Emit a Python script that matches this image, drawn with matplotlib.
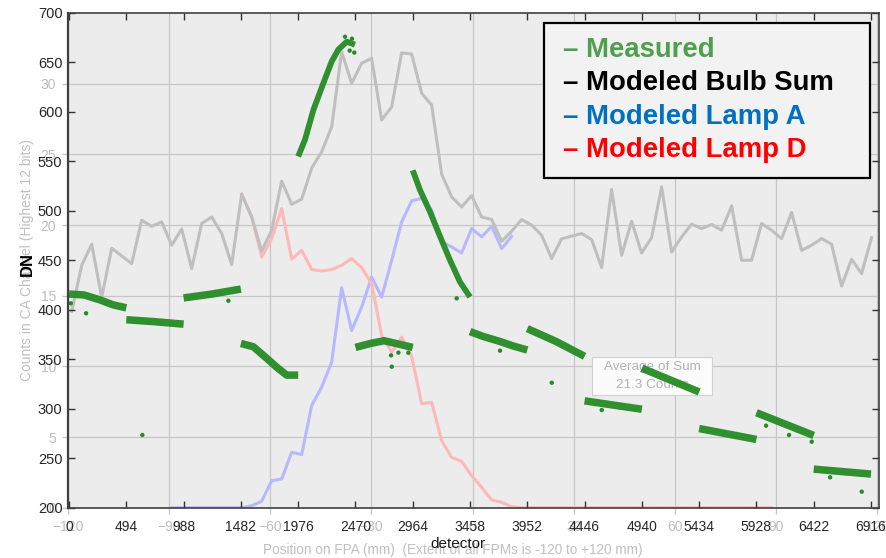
import numpy as np
import matplotlib
matplotlib.use("Agg")
import matplotlib.pyplot as plt
from matplotlib.patches import Rectangle

plt.rcParams['font.family'] = ['Liberation Sans', 'DejaVu Sans']

# ---------------- background model (FPA position in mm, counts) ----------------
fpa_mm = np.linspace(-118.9, 118.3, 81)
bulb_sum = [13.89, 17.15, 18.64, 14.88, 18.36, 17.81, 17.27, 20.34, 19.91, 20.22,
            18.57, 19.72, 16.92, 20.11, 20.57, 19.40, 17.20, 22.18, 20.57, 18.16,
            19.63, 23.10, 21.47, 21.83, 24.03, 25.18, 26.95, 32.25, 30.03, 31.45,
            31.79, 27.43, 28.35, 32.18, 32.10, 29.32, 28.49, 23.60, 21.99, 21.28,
            22.08, 20.57, 20.39, 18.85, 19.56, 20.39, 19.99, 19.28, 17.63, 19.03,
            19.21, 19.40, 18.97, 16.99, 22.52, 17.86, 20.27, 18.02, 19.11, 22.70,
            18.09, 19.16, 20.06, 19.75, 20.04, 19.63, 21.35, 17.51, 17.51, 20.11,
            19.63, 19.04, 20.89, 18.21, 18.57, 19.04, 18.64, 15.68, 17.58, 16.56,
            19.11]
lamp_a_start = 10
lamp_a = [0, 0, 0, 0, 0, 0, 0, 0.0, 0.14, 0.45, 1.91, 2.03, 3.92, 3.76, 7.23,
          8.53, 10.30, 15.56, 12.54, 14.2, 16.32, 14.9, 17.5, 20.22, 21.71, 21.88,
          21.05, 18.80, 18.45, 18.02, 19.75, 19.16, 19.91, 18.33, 19.2]
lamp_d_start = 17
lamp_d = [22.18, 20.57, 17.74, 19.04, 21.17, 17.58, 18.21, 16.85, 16.75, 16.85,
          17.15, 17.63, 16.99, 15.85, 12.19, 11.01, 12.07, 10.70, 7.35, 7.46,
          4.75, 3.56, 3.28, 2.27, 1.44, 0.55, 0.38, 0.07] + [0.0] * 26

fpa_ticks = list(range(-120, 121, 30))
count_ticks = list(range(0, 31, 5))

# ---------------- measured data (detector index, DN) ----------------
seg_det = [
    [0, 130, 267, 380, 494],
    [494, 740, 988],
    [988, 1235, 1482],
    [1482, 1589, 1705, 1791, 1877, 1976],
    [1976, 2035, 2107, 2193, 2265, 2322, 2395, 2466],
    [2470, 2600, 2717, 2964],
    [2964, 3027, 3113, 3200, 3286, 3372, 3458],
    [3458, 3573, 3717, 3832, 3952],
    [3952, 4200, 4446],
    [4446, 4940],
    [4940, 5434],
    [5434, 5928],
    [5928, 6422],
    [6422, 6916],
]
seg_dn = [
    [416, 415, 410, 405, 402],
    [390, 388, 385.5],
    [412, 416, 421],
    [366, 362.7, 351, 342, 334, 334],
    [555, 572, 602, 629, 651, 663, 671, 668],
    [362, 366, 368.8, 362],
    [541, 521, 499, 474, 450, 428, 413],
    [378, 373, 368, 363.4, 359.4],
    [381, 368, 353],
    [308, 299.5],
    [341, 317],
    [280, 269],
    [296, 273],
    [239, 234],
]
out_det = [632, 147, 15, 1374, 2777, 2783, 2840, 2926, 3343, 3717, 4163, 4594,
           6011, 6209, 6405, 6563, 6836, 2380, 2440, 2460, 2420]
out_dn = [273.5, 396.5, 406.6, 409.2, 354, 342.5, 356.7, 356.6, 411.6, 358.7,
          326.3, 298.7, 282.9, 273.5, 266.7, 230.7, 216.2, 676, 674, 660, 662]

det_ticks = list(range(0, 6917, 494))
dn_ticks = list(range(200, 701, 50))

legend_labels = ["– Measured", "– Modeled Bulb Sum", "– Modeled Lamp A", "– Modeled Lamp D"]
legend_colors = ["#4f9f4f", "#000000", "#0070c0", "#ff0000"]

# ---------------- figure ----------------
W, H = 887, 558
fig = plt.figure(figsize=(W / 100, H / 100), dpi=100)
L, R, T, B = 68, 879, 13, 507.7
pos = [L / W, 1 - B / H, (R - L) / W, (B - T) / H]

axb = fig.add_axes(pos)
axb.set_facecolor('#ececec')
axb.set_xlim(-120, 120.5)
axb.set_ylim(0, 35)
axb.set_xticks(fpa_ticks)
axb.set_yticks(count_ticks)
axb.tick_params(direction='out', length=4, width=1, color='#c8c8c8',
                labelcolor='#bdbdbd', labelsize=10)
axb.tick_params(axis='x', pad=4.5)
axb.tick_params(axis='y', pad=4.5)
axb.grid(True, color='#c6c6c6', lw=0.9)
axb.set_axisbelow(True)
for s in axb.spines.values():
    s.set_visible(False)

xs = np.asarray(fpa_mm)
axb.plot(xs[lamp_a_start:lamp_a_start + len(lamp_a)], lamp_a, color='#b8b8ff', lw=2.2, zorder=2)
axb.plot(xs[lamp_d_start:lamp_d_start + len(lamp_d)], lamp_d, color='#ffb8b8', lw=2.2, zorder=2)
axb.plot(xs, bulb_sum, color='#bfbfbf', lw=2.2, zorder=3)

# "Average of Sum" annotation box
axb.add_patch(Rectangle((592 / W, 1 - 395 / H), 120 / W, 38 / H, transform=fig.transFigure,
                        facecolor='#fbfbfb', edgecolor='#d0d0d0', lw=0.8, zorder=4))
axb.text(652 / W, 1 - 367 / H, "Average of Sum", transform=fig.transFigure, ha='center',
         va='center', color='#b3b3b3', fontsize=9.7, zorder=5)
axb.text(652 / W, 1 - 385 / H, "21.3 Counts", transform=fig.transFigure, ha='center',
         va='center', color='#b3b3b3', fontsize=9.7, zorder=5)

axf = fig.add_axes(pos)
axf.set_facecolor('none')
axf.set_xlim(-9, 6985)
axf.set_ylim(200, 700)
axf.set_xticks(det_ticks)
axf.set_yticks(dn_ticks)
axf.tick_params(direction='in', top=True, right=True, length=5, width=1, color='#333333',
                labelcolor='#262626', labelsize=10)
axf.tick_params(axis='x', pad=9)
axf.tick_params(axis='y', pad=4, labelsize=10.5)
for s in axf.spines.values():
    s.set_color('#404040')
    s.set_linewidth(1.2)
axf.spines['left'].set_linewidth(1.6)

green = '#268b26'
steep = {4, 6}
for i, (dx, dy) in enumerate(zip(seg_det, seg_dn)):
    axf.plot(dx, dy, color=green, lw=4.2 if i in steep else 5.4,
             solid_capstyle='butt', solid_joinstyle='round', alpha=0.95)
axf.scatter(out_det, out_dn, s=10, color=green, edgecolors='none')

# axis labels
fig.text(27.5 / W, 1 - 260 / H, "Counts in CA Channel (Highest 12 bits)", rotation=90,
         ha='center', va='center', color='#c0c0c0', fontsize=10)
fig.text(27.5 / W, 1 - 264 / H, "DN", rotation=90, ha='center', va='center',
         color='black', fontsize=12, fontweight='bold')
fig.text(453 / W, 1 - 550 / H, "Position on FPA (mm)  (Extent of all FPMs is -120 to +120 mm)",
         ha='center', va='center', color='#c0c0c0', fontsize=9.8)
fig.text(457.5 / W, 1 - 544 / H, "detector", ha='center', va='center', color='#1a1a1a',
         fontsize=11)

# legend box
fig.patches.append(Rectangle((544 / W, 1 - 178 / H), (870 - 544) / W, (178 - 23) / H,
                             transform=fig.transFigure, facecolor='#f2f2f2',
                             edgecolor='black', lw=1.6, zorder=10))
for i, (lab, col) in enumerate(zip(legend_labels, legend_colors)):
    fig.text(563 / W, 1 - (50 + 33.4 * i) / H, lab, ha='left', va='center', color=col,
             fontsize=19.8, fontweight='bold', zorder=11)

fig.savefig('out.png', dpi=100)
